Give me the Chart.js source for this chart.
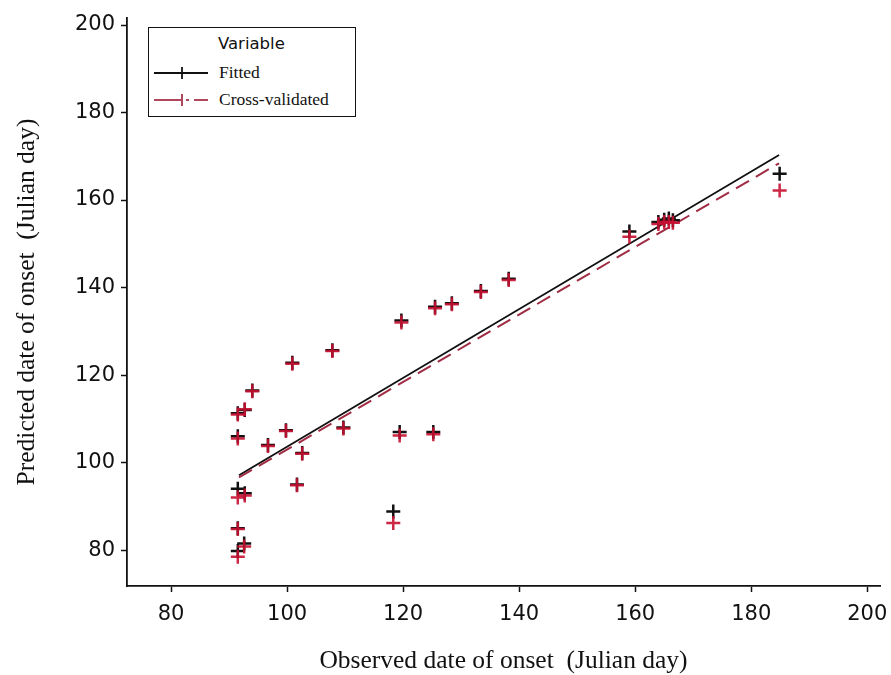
<!DOCTYPE html>
<html>
<head>
<meta charset="utf-8">
<script src="https://cdn.jsdelivr.net/npm/chart.js@4/dist/chart.umd.min.js"></script>
<style>
    html, body { margin: 0; padding: 0; background: #fff; }
    #wrap { position: relative; width: 891px; height: 675px; }
    #legend {
        position: absolute; left: 148px; top: 27px; width: 208px; height: 90px;
        border: 1.5px solid #111; box-sizing: border-box; background: #fff;
    }
    #legend .head { position: absolute; left: 69px; top: 6px; font: 16.5px "DejaVu Sans", sans-serif; color: #111; }
    #legend .row { position: absolute; left: 4px; height: 20px; font: 17.5px "Liberation Serif", serif; color: #111; }
    #legend .row span { position: absolute; left: 66px; top: -1px; white-space: nowrap; }
    #legend svg { position: absolute; left: 0; top: 2px; }
</style>
</head>
<body>
<div id="wrap">
    <canvas id="onset-chart" width="891" height="675"></canvas>
    <div id="legend">
        <div class="head">Variable</div>
        <div class="row" style="top:35px">
            <svg width="60" height="16"><line x1="1" y1="8" x2="55" y2="8" stroke="#111" stroke-width="1.8"/><line x1="29" y1="2" x2="29" y2="14" stroke="#111" stroke-width="1.8"/></svg>
            <span>Fitted</span>
        </div>
        <div class="row" style="top:62px">
            <svg width="60" height="16"><line x1="1" y1="8" x2="28" y2="8" stroke="#a8324a" stroke-width="1.8"/><line x1="33" y1="8" x2="36" y2="8" stroke="#a8324a" stroke-width="1.8"/><line x1="41" y1="8" x2="55" y2="8" stroke="#a8324a" stroke-width="1.8"/><line x1="29" y1="2" x2="29" y2="14" stroke="#a8324a" stroke-width="1.8"/></svg>
            <span>Cross-validated</span>
        </div>
    </div>
</div>
<script>
    // observed vs predicted onset dates (Julian day)
    const observed  = [91.5, 91.5, 92.6, 91.5, 92.7, 91.5, 91.5, 92.7, 94.0, 96.7, 99.8, 100.9, 102.6, 101.7, 107.8, 109.7, 118.3, 119.4, 125.2, 119.7, 125.5, 128.4, 133.4, 138.2, 159.0, 164.0, 165.0, 165.8, 166.5, 184.9];
    const fitted    = [85.0, 79.8, 81.5, 94.0, 93.0, 106.0, 111.3, 112.0, 116.5, 104.0, 107.4, 122.8, 102.2, 95.0, 125.7, 108.0, 88.8, 107.0, 107.0, 132.5, 135.6, 136.4, 139.2, 142.0, 152.8, 155.0, 155.5, 155.8, 155.4, 166.0];
    const crossVal  = [84.8, 78.5, 80.8, 92.0, 92.5, 105.5, 111.0, 112.2, 116.3, 103.8, 107.2, 122.6, 102.0, 94.8, 125.5, 107.8, 86.2, 106.2, 106.5, 132.0, 135.3, 136.2, 139.0, 141.7, 151.6, 154.5, 155.0, 155.0, 154.8, 162.2];

    // regression lines (start / end)
    const lineX       = [91.7, 184.8];
    const fitLineY    = [97.1, 170.3];
    const cvLineY     = [96.6, 168.4];

    const xTicks = [80, 100, 120, 140, 160, 180, 200];
    const yTicks = [80, 100, 120, 140, 160, 180, 200];

    const toPoints = (xs, ys) => xs.map((x, i) => ({x: x, y: ys[i]}));

    const ctx = document.getElementById("onset-chart").getContext("2d");

    const tickFont = {family: "DejaVu Sans", size: 21};
    const titleFont = {family: "Liberation Serif", size: 25.5};

    new Chart(ctx, {
        type: "scatter",
        data: {
            datasets: [
                {
                    label: "Cross-validated",
                    data: toPoints(observed, crossVal),
                    pointStyle: "cross",
                    pointRadius: 7,
                    borderColor: "rgba(200, 16, 50, 0.9)",
                    pointBorderWidth: 2.5,
                },
                {
                    label: "Fitted",
                    data: toPoints(observed, fitted),
                    pointStyle: "cross",
                    pointRadius: 7,
                    borderColor: "#111",
                    pointBorderWidth: 2.5,
                },
                {
                    type: "line",
                    label: "Cross-validated line",
                    data: toPoints(lineX, cvLineY),
                    borderColor: "#a02c44",
                    borderWidth: 2,
                    borderDash: [15, 8],
                    pointRadius: 0,
                    fill: false,
                },
                {
                    type: "line",
                    label: "Fitted line",
                    data: toPoints(lineX, fitLineY),
                    borderColor: "#111",
                    borderWidth: 1.8,
                    pointRadius: 0,
                    fill: false,
                }
            ]
        },
        options: {
            responsive: false,
            animation: false,
            layout: {padding: {top: 18, right: 11, left: 0, bottom: 0}},
            plugins: {
                legend: {display: false},
                tooltip: {enabled: false}
            },
            scales: {
                x: {
                    type: "linear",
                    min: 72.4,
                    max: 202.2,
                    afterBuildTicks: (scale) => { scale.ticks = xTicks.map((v) => ({value: v})); },
                    afterFit: (scale) => {
                        scale.height = 89;
                        scale.paddingLeft = 0;
                        scale.paddingRight = 0;
                    },
                    grid: {drawOnChartArea: false, drawTicks: true, tickLength: 6, tickColor: "#111", tickWidth: 1.5},
                    border: {display: true, color: "#111", width: 1.8},
                    ticks: {color: "#111", font: tickFont, padding: 10, maxRotation: 0},
                    title: {
                        display: true,
                        text: "Observed date of onset  (Julian day)",
                        color: "#111",
                        font: titleFont,
                        padding: {top: 0, bottom: -2}
                    }
                },
                y: {
                    type: "linear",
                    min: 71.8,
                    max: 201.6,
                    afterBuildTicks: (scale) => { scale.ticks = yTicks.map((v) => ({value: v})); },
                    afterFit: (scale) => {
                        scale.width = 127;
                        scale.paddingTop = 0;
                        scale.paddingBottom = 0;
                    },
                    grid: {drawOnChartArea: false, drawTicks: true, tickLength: 6, tickColor: "#111", tickWidth: 1.5},
                    border: {display: true, color: "#111", width: 1.8},
                    ticks: {color: "#111", font: tickFont, padding: 6},
                    title: {
                        display: true,
                        text: "Predicted date of onset  (Julian day)",
                        color: "#111",
                        font: titleFont,
                        padding: {top: 12, bottom: 0}
                    }
                }
            }
        },
        plugins: [{
            id: "whiteBg",
            beforeDraw: (chart) => {
                const c = chart.ctx;
                c.save();
                c.fillStyle = "#fff";
                c.fillRect(0, 0, chart.width, chart.height);
                c.restore();
            }
        }]
    });
</script>
</body>
</html>
